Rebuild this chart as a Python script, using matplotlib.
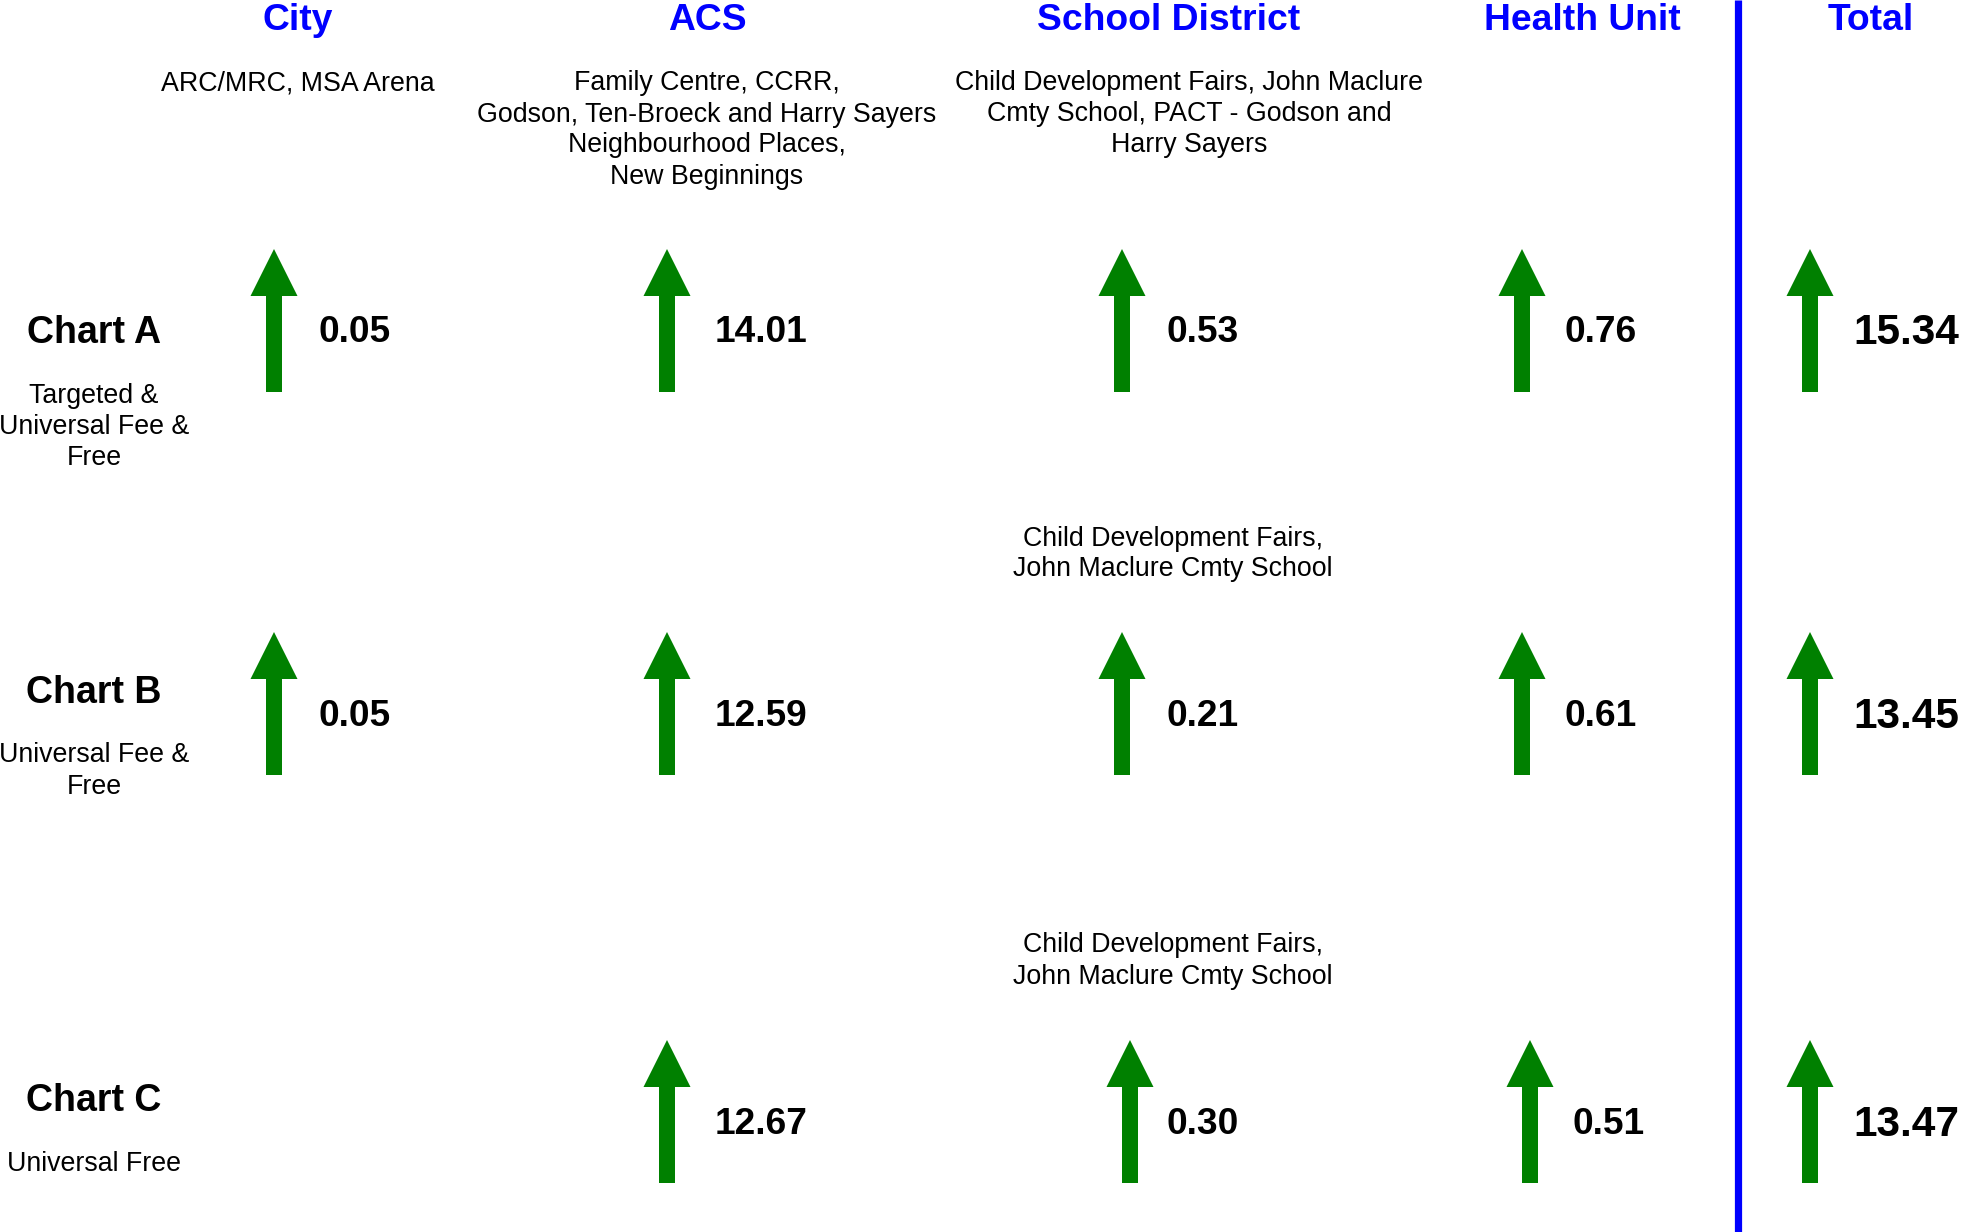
import matplotlib
matplotlib.use("Agg")
import matplotlib.pyplot as plt
from matplotlib.patches import FancyArrow

plt.rcParams['font.family'] = ['Liberation Sans', 'DejaVu Sans']

# --- data ---
columns = ["City", "ACS", "School District", "Health Unit", "Total"]
charts = ["Chart A", "Chart B", "Chart C"]
subtitles = ["Targeted &\nUniversal Fee &\nFree", "Universal Fee &\nFree", "Universal Free"]
values_a = [0.05, 14.01, 0.53, 0.76, 15.34]
values_b = [0.05, 12.59, 0.21, 0.61, 13.45]
values_c = [None, 12.67, 0.30, 0.51, 13.47]
notes_a = ["ARC/MRC, MSA Arena",
           "Family Centre, CCRR,\nGodson, Ten-Broeck and Harry Sayers\nNeighbourhood Places,\nNew Beginnings",
           "Child Development Fairs, John Maclure\nCmty School, PACT - Godson and\nHarry Sayers",
           None, None]
notes_b = [None, None, "Child Development Fairs,\nJohn Maclure Cmty School", None, None]
notes_c = [None, None, "Child Development Fairs,\nJohn Maclure Cmty School", None, None]

rows = [values_a, values_b, values_c]
notes = [notes_a, notes_b, notes_c]

# --- layout (pixel coords, y down) ---
W, H = 1961, 1232
header_x = [298, 707, 1169, 1582, 1871]
arrow_x = [[274, 667, 1122, 1522, 1810],
           [274, 667, 1122, 1522, 1810],
           [274, 667, 1130, 1530, 1810]]
text_x = [[318, 715, 1166, 1565, 1853],
          [318, 715, 1166, 1565, 1853],
          [318, 715, 1166, 1573, 1853]]
note_x_rows = [[298, 707, 1189, 1582, 1871],
               [298, 707, 1173, 1582, 1871],
               [298, 707, 1173, 1582, 1871]]
note_y = [[84, 130, 114, 0, 0], [0, 0, 554, 0, 0], [0, 0, 961, 0, 0]]
row_base = [392, 775, 1183]
row_mid = [333, 717, 1125]
label_y = [333, 693, 1101]
sub_y = [427, 771, 1164]
label_x = 94
divider_x = 1738

fig = plt.figure(figsize=(W / 100, H / 100), dpi=100)
ax = fig.add_axes([0, 0, 1, 1])
ax.set_xlim(0, W)
ax.set_ylim(H, 0)
ax.axis('off')

for x, name in zip(header_x, columns):
    ax.text(x, 21, name, ha='center', va='center', fontsize=26.8,
            fontweight='bold', color='#0000ff')

ax.plot([divider_x, divider_x], [0, H], color='#0000ff', lw=5.2,
        solid_capstyle='butt')

for r, vals in enumerate(rows):
    ax.text(label_x, label_y[r], charts[r], ha='center', va='center',
            fontsize=27, fontweight='bold')
    ax.text(label_x, sub_y[r], subtitles[r], ha='center', va='center',
            fontsize=19.3, linespacing=1.27)
    for c, v in enumerate(vals):
        if notes[r][c]:
            ax.text(note_x_rows[r][c], note_y[r][c], notes[r][c], ha='center',
                    va='center', fontsize=19.3, linespacing=1.25)
        if v is None:
            continue
        ax.add_patch(FancyArrow(arrow_x[r][c], row_base[r], 0, -143,
                                width=16, head_width=47, head_length=47,
                                length_includes_head=True, color='#008000',
                                lw=0))
        big = c == len(columns) - 1
        ax.text(text_x[r][c], row_mid[r], f"{v:.2f}",
                ha='left', va='center', fontsize=30.5 if big else 26.7,
                fontweight='bold')

fig.savefig("out.png", dpi=100, facecolor='white')
